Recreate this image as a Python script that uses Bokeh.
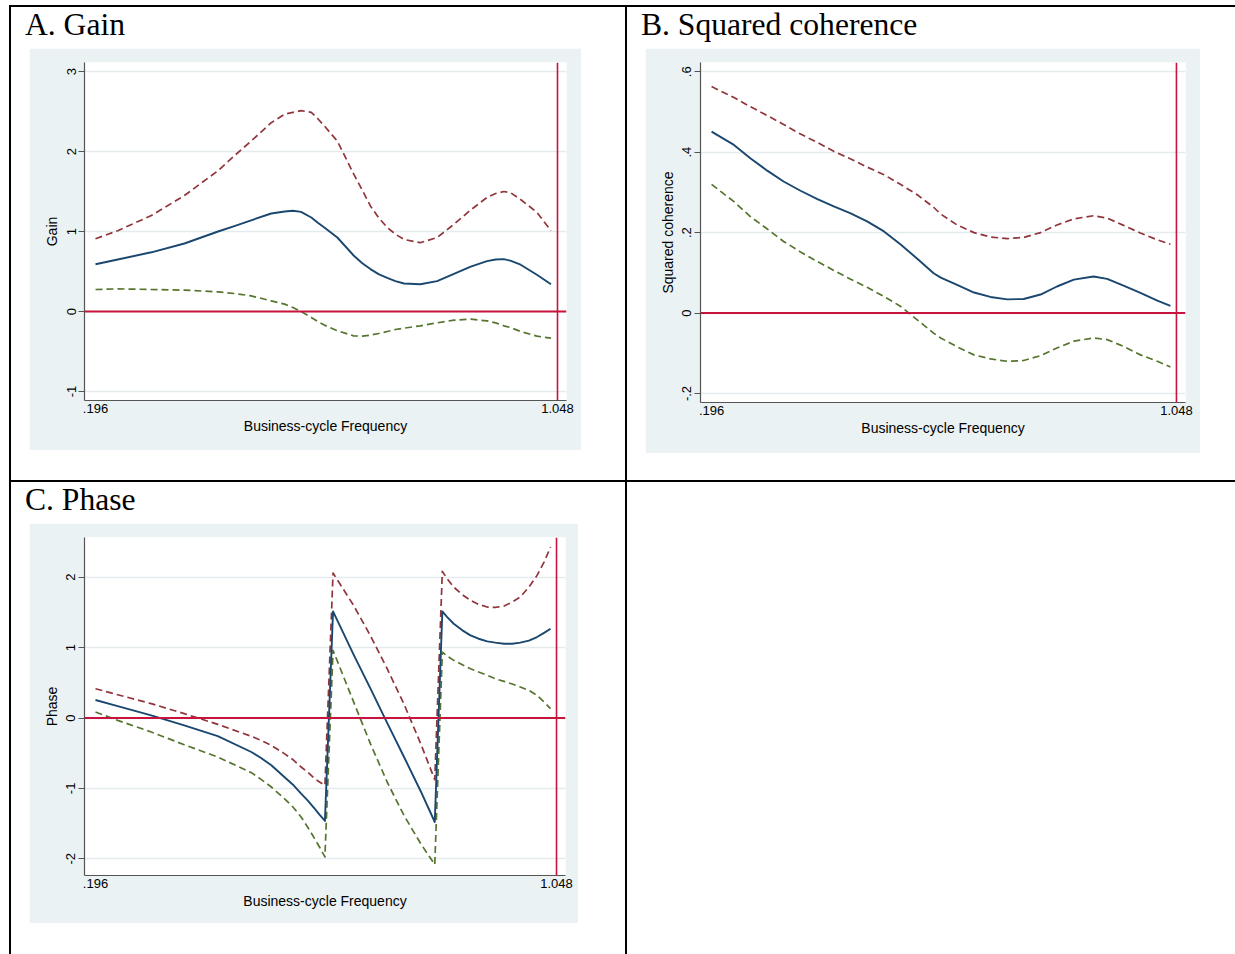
from bokeh.plotting import figure
from bokeh.layouts import row, column
from bokeh.models import Div, Spacer, Span, FixedTicker, CustomJSTickFormatter
from bokeh.embed import file_html
from bokeh.resources import INLINE

# ---------------- data ----------------
x_ticks = [0.196, 1.048]
band_edge = 1.048
zero_line = 0.0

# A. Gain
gain_freq = [0.196, 0.237, 0.299, 0.360, 0.422, 0.452, 0.483, 0.520, 0.545, 0.560, 0.575, 0.594, 0.606,
             0.618, 0.642, 0.672, 0.688, 0.703, 0.718, 0.734, 0.749, 0.765, 0.795, 0.826, 0.857, 0.888,
             0.918, 0.934, 0.949, 0.961, 0.980, 1.010, 1.036]
gain = [0.59, 0.65, 0.74, 0.85, 1.00, 1.067, 1.14, 1.225, 1.25, 1.26, 1.245, 1.175, 1.11,
        1.05, 0.925, 0.70, 0.604, 0.53, 0.467, 0.42, 0.379, 0.35, 0.34, 0.38, 0.47, 0.56,
        0.63, 0.65, 0.655, 0.635, 0.585, 0.46, 0.34]
gain_upper = [0.91, 1.01, 1.20, 1.45, 1.76, 1.946, 2.13, 2.36, 2.467, 2.49, 2.51, 2.49, 2.41,
              2.32, 2.13, 1.72, 1.517, 1.32, 1.175, 1.05, 0.967, 0.90, 0.86, 0.925, 1.09, 1.27,
              1.425, 1.475, 1.50, 1.487, 1.40, 1.24, 1.01]
gain_lower = [0.275, 0.283, 0.275, 0.267, 0.246, 0.225, 0.196, 0.133, 0.092, 0.05, 0.0, -0.075, -0.125,
              -0.17, -0.24, -0.304, -0.308, -0.296, -0.275, -0.25, -0.225, -0.208, -0.179, -0.142, -0.108, -0.096,
              -0.117, -0.142, -0.179, -0.2, -0.25, -0.308, -0.333]
gain_yticks = [-1, 0, 1, 2, 3]

# B. Squared coherence
coh_freq = [0.196, 0.237, 0.267, 0.298, 0.328, 0.359, 0.390, 0.420, 0.451, 0.481, 0.512, 0.542, 0.573, 0.603,
            0.616, 0.646, 0.677, 0.707, 0.738, 0.768, 0.799, 0.829, 0.860, 0.896, 0.921, 0.951, 0.982, 1.013, 1.037]
coh = [0.451, 0.418, 0.385, 0.354, 0.327, 0.304, 0.283, 0.265, 0.248, 0.228, 0.203, 0.171, 0.135, 0.099,
       0.088, 0.070, 0.051, 0.040, 0.034, 0.035, 0.046, 0.066, 0.083, 0.091, 0.085, 0.068, 0.050, 0.031, 0.018]
coh_upper = [0.563, 0.536, 0.513, 0.491, 0.469, 0.445, 0.424, 0.402, 0.383, 0.363, 0.344, 0.320, 0.294, 0.263,
             0.246, 0.219, 0.200, 0.189, 0.185, 0.188, 0.200, 0.219, 0.234, 0.242, 0.236, 0.218, 0.199, 0.182, 0.171]
coh_lower = [0.320, 0.277, 0.240, 0.209, 0.178, 0.152, 0.128, 0.106, 0.084, 0.064, 0.041, 0.017, -0.017, -0.050,
             -0.062, -0.084, -0.104, -0.114, -0.120, -0.118, -0.106, -0.087, -0.070, -0.062, -0.066, -0.083,
             -0.104, -0.120, -0.134]
coh_yticks = [-0.2, 0, 0.2, 0.4, 0.6]

# C. Phase
phase_freq = [0.196, 0.237, 0.299, 0.360, 0.422, 0.484, 0.502, 0.521, 0.545, 0.561, 0.576, 0.588, 0.601,
              0.610, 0.620, 0.635, 0.673, 0.704, 0.735, 0.766, 0.797, 0.823, 0.837, 0.846, 0.858, 0.874,
              0.889, 0.904, 0.920, 0.935, 0.951, 0.966, 0.981, 0.997, 1.012, 1.025, 1.037]
phase = [0.256, 0.170, 0.038, -0.104, -0.256, -0.483, -0.568, -0.672, -0.838, -0.947, -1.074, -1.169, -1.287,
         -1.372, -1.462, 1.514, 0.90, 0.42, -0.07, -0.55, -1.04, -1.477, 1.514, 1.434, 1.339, 1.245,
         1.174, 1.126, 1.088, 1.07, 1.055, 1.055, 1.07, 1.10, 1.15, 1.21, 1.268]
phase_upper = [0.416, 0.331, 0.204, 0.062, -0.090, -0.260, -0.317, -0.388, -0.506, -0.592, -0.696, -0.767, -0.861,
               -0.909, -0.956, 2.059, 1.60, 1.17, 0.70, 0.20, -0.364, -0.876, 2.082, 1.978, 1.86, 1.751,
               1.671, 1.614, 1.576, 1.571, 1.59, 1.647, 1.718, 1.86, 2.026, 2.215, 2.428]
phase_lower = [0.085, -0.033, -0.199, -0.379, -0.554, -0.776, -0.871, -0.980, -1.145, -1.264, -1.406, -1.548, -1.713,
               -1.832, -1.973, 0.961, 0.23, -0.364, -0.909, -1.382, -1.784, -2.082, 0.937, 0.88, 0.819, 0.757,
               0.70, 0.653, 0.606, 0.558, 0.52, 0.483, 0.44, 0.393, 0.322, 0.227, 0.133]
phase_yticks = [-2, -1, 0, 1, 2]

# ---------------- style ----------------
BG = "#EAF2F3"
GRID = "#E3EBED"
NAVY = "#1A476F"
MAROON = "#90353B"
FOREST = "#55752F"
RED = "#C8143C"
AXIS = "#555555"
SANS = "Liberation Sans"

X_RANGE = (0.1757, 1.0646)

FMT_CODE = r"""
let s = String(Math.round(tick * 1000) / 1000);
return s.replace(/^(-?)0\./, '$1.');
"""


def panel(w, h, borders, y_range, yticks, ylabel, freq, est, upper, lower):
    bl, br, bt, bb = borders
    p = figure(width=w, height=h, x_range=X_RANGE, y_range=y_range,
               output_backend="svg", toolbar_location=None,
               min_border_left=bl, min_border_right=br, min_border_top=bt, min_border_bottom=bb,
               background_fill_color="white", border_fill_color=BG,
               outline_line_color=None, margin=0)
    p.xaxis.ticker = FixedTicker(ticks=x_ticks, minor_ticks=[])
    p.yaxis.ticker = FixedTicker(ticks=yticks, minor_ticks=[])
    p.xaxis.formatter = CustomJSTickFormatter(code=FMT_CODE)
    p.yaxis.formatter = CustomJSTickFormatter(code=FMT_CODE)
    p.xaxis.axis_label = "Business-cycle Frequency"
    p.yaxis.axis_label = ylabel
    for ax in (p.xaxis[0], p.yaxis[0]):
        ax.axis_line_color = AXIS
        ax.axis_line_width = 1.2
        ax.major_label_text_font = SANS
        ax.major_label_text_font_size = "13px"
        ax.major_label_text_color = "black"
        ax.axis_label_text_font = SANS
        ax.axis_label_text_font_size = "14px"
        ax.axis_label_text_font_style = "normal"
        ax.axis_label_text_color = "black"
        ax.minor_tick_line_color = None
    p.xaxis.major_tick_line_color = None
    p.xaxis.major_tick_out = 0
    p.xaxis.major_tick_in = 0
    p.xaxis.major_label_standoff = 3
    p.xaxis.axis_label_standoff = 2
    p.yaxis.major_tick_line_color = AXIS
    p.yaxis.major_tick_out = 6
    p.yaxis.major_tick_in = 0
    p.yaxis.major_label_standoff = 3
    p.yaxis.axis_label_standoff = 4
    p.yaxis.major_label_orientation = "vertical"
    p.xgrid.grid_line_color = None
    p.ygrid.grid_line_color = GRID
    p.ygrid.grid_line_width = 1.5

    p.line(freq, upper, line_color=MAROON, line_width=1.7, line_dash="7 4", line_join="round")
    p.line(freq, lower, line_color=FOREST, line_width=1.7, line_dash="7 4", line_join="round")
    p.line(freq, est, line_color=NAVY, line_width=1.9, line_join="round")
    p.add_layout(Span(location=zero_line, dimension="width", line_color=RED, line_width=2))
    p.add_layout(Span(location=band_edge, dimension="height", line_color=RED, line_width=1.6))
    return p


pA = panel(552, 402, (55, 15, 14, 50), (-1.1125, 3.1125), gain_yticks, "Gain",
           gain_freq, gain, gain_upper, gain_lower)
pB = panel(555, 405, (55, 15, 14, 51), (-0.2224, 0.6229), coh_yticks, "Squared coherence",
           coh_freq, coh, coh_upper, coh_lower)
pC = panel(549, 400, (55, 13, 14, 48), (-2.237, 2.564), phase_yticks, "Phase",
           phase_freq, phase, phase_upper, phase_lower)


def sp(w, h):
    return Spacer(width=w, height=h, margin=0)


def black(w, h):
    return Div(text="", width=w, height=h, margin=0, styles={"background-color": "black"})


def title(t, w):
    d = Div(text=t, width=w - 14, height=41, margin=0,
            styles={"font-family": "'Liberation Serif', 'Times New Roman', serif",
                    "font-size": "31.6px", "line-height": "35px", "color": "black",
                    "white-space": "nowrap"})
    return row(sp(14, 41), d, spacing=0)


cellA = column(title("A. Gain", 614), row(sp(18, 402), pA, sp(44, 402), spacing=0), sp(614, 30), spacing=0)
cellB = column(title("B. Squared coherence", 608), row(sp(18, 405), pB, sp(35, 405), spacing=0), sp(608, 27), spacing=0)
cellC = column(title("C. Phase", 614), row(sp(18, 400), pC, sp(47, 400), spacing=0), sp(614, 31), spacing=0)

top_row = row(sp(9, 473), black(2, 473), cellA, black(2, 473), cellB, spacing=0)
bottom_row = row(sp(9, 472), black(2, 472), cellC, black(2, 472), sp(608, 472), spacing=0)

root = column(
    sp(1235, 5),
    row(sp(9, 2), black(1226, 2), spacing=0),
    top_row,
    row(sp(9, 2), black(1226, 2), spacing=0),
    bottom_row,
    spacing=0,
)

with open("out.html", "w") as f:
    f.write(file_html(root, INLINE))
